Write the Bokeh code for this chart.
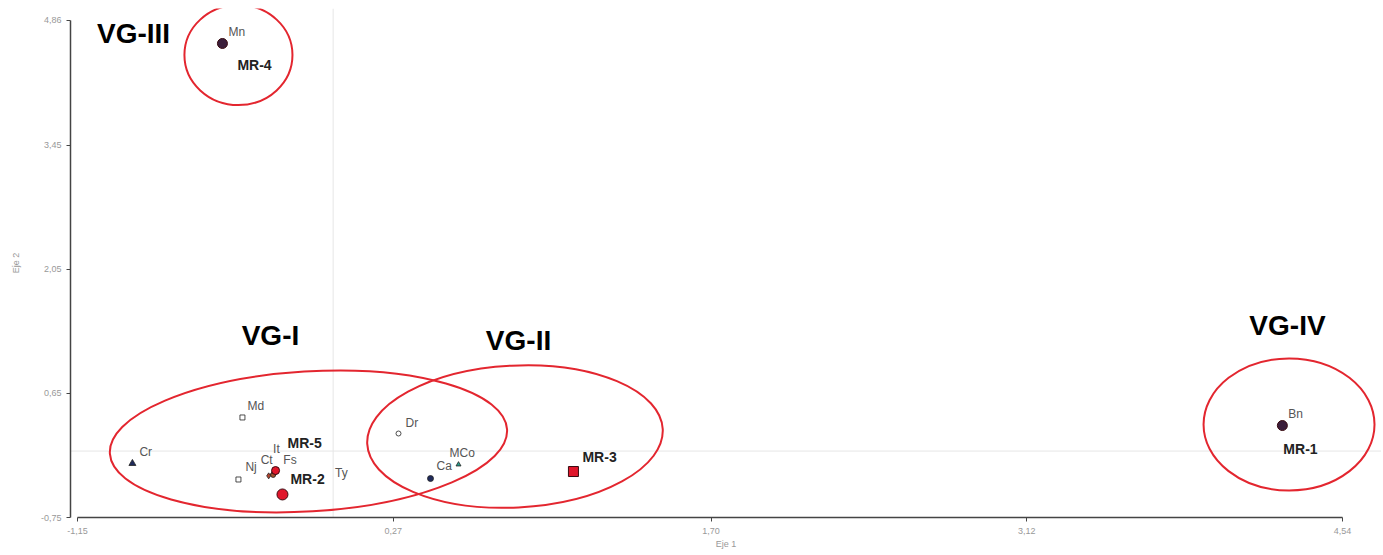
from bokeh.plotting import figure
from bokeh.models import ColumnDataSource, Range1d, Span, FixedTicker
from bokeh.core.properties import value
from bokeh.embed import file_html
from bokeh.resources import INLINE

# ---------------- data ----------------
species = ["Mn", "Bn", "Cr", "Md", "Nj", "Ct", "It", "Fs", "Ty", "Dr", "Ca", "MCo"]
species_x = [-0.498, 4.270, -0.903, -0.408, -0.426, -0.29, -0.27, -0.26, -0.27, 0.294, 0.438, 0.564]
species_y = [4.600, 0.288, -0.140, 0.379, -0.321, -0.28, -0.25, -0.24, -0.27, 0.198, -0.310, -0.152]

sites = ["MR-1", "MR-2", "MR-3", "MR-4", "MR-5"]
site_x = [4.270, -0.228, 1.081, -0.498, -0.259]
site_y = [0.288, -0.490, -0.231, 4.600, -0.220]

groups = ["VG-I", "VG-II", "VG-III", "VG-IV"]
group_cx = [-0.111, 0.818, -0.426, 4.300]
group_cy = [0.108, 0.164, 4.470, 0.300]
group_w = [1.790, 1.331, 0.486, 0.769]
group_h = [1.580, 1.603, 1.130, 1.490]
group_label_x = [-0.282, 0.834, -0.898, 4.293]
group_label_y = [1.304, 1.248, 4.713, 1.417]

x_ticks = [-1.15, 0.27, 1.70, 3.12, 4.54]
x_tick_labels = ["-1,15", "0,27", "1,70", "3,12", "4,54"]
y_ticks = [-0.75, 0.65, 2.05, 3.45, 4.86]
y_tick_labels = ["-0,75", "0,65", "2,05", "3,45", "4,86"]

# ---------------- styles ----------------
species_marker = ["circle", "circle", "triangle", "square", "square", "diamond",
                  "triangle", "diamond", "circle", "circle", "circle", "triangle"]
species_fill = ["#3b1e3b", "#3b1e3b", "#1f2a5a", "#ffffff", "#ffffff", "#b5452f",
                "#d62020", "#d62020", "#a0522d", "#ffffff", "#1f2a5a", "#2a9d8f"]
species_size = [7, 7, 7, 5, 5, 6, 6, 6, 5, 5, 6, 5]
species_dx = [6, 6, 7, 5, 7, -8, 0, 8, 62, 7, 6, -9]
species_dy = [-11, -12, -11, -11, -12, -16, -24, -12, -2, -11, -13, -12]

site_marker = ["circle", "circle", "square", "circle", "circle"]
site_fill = ["#3b1e3b", "#e0162b", "#e0162b", "#3b1e3b", "#e0162b"]
site_size = [10, 11, 10, 10, 8]
site_dx = [1, 8, 9, 15, 12]
site_dy = [23, -15, -15, 22, -28]

group_angle = [0.061, 0.05, 0.0, 0.0]

W, H = 1381, 553
LEFT, TOP = 70, 8
sx_scale = 222.3
sy_scale = 88.6
x_start = -1.15 - 7 / sx_scale
x_end = x_start + (W - LEFT) / sx_scale
y_start = -0.75
y_end = -0.75 + (517 - TOP) / sy_scale

p = figure(width=W, height=H, x_range=Range1d(x_start, x_end), y_range=Range1d(y_start, y_end),
           output_backend="svg", toolbar_location=None,
           min_border_left=LEFT, min_border_right=0, min_border_top=TOP, min_border_bottom=H - 517)
p.outline_line_color = None
p.xgrid.visible = False
p.ygrid.visible = False
p.background_fill_color = "white"

# origin lines
p.add_layout(Span(location=0, dimension="height", line_color="#e6e6e6", line_width=1, level="underlay"))
p.add_layout(Span(location=0, dimension="width", line_color="#e6e6e6", line_width=1, level="underlay"))

# axes
for ax, ticks, labs, bnds in [(p.xaxis, x_ticks, x_tick_labels, (-1.15, 4.54)),
                              (p.yaxis, y_ticks, y_tick_labels, (-0.75, 4.86))]:
    ax.ticker = FixedTicker(ticks=ticks)
    ax.major_label_overrides = dict(zip(ticks, labs))
    ax.bounds = bnds
    ax.minor_tick_line_color = None
    ax.major_tick_in = 0
    ax.major_tick_out = 4
    ax.axis_line_color = "#444444"
    ax.axis_line_width = 1.5
    ax.major_tick_line_color = "#444444"
    ax.major_label_text_font = "Liberation Sans"
    ax.major_label_text_font_size = "9px"
    ax.major_label_text_color = "#999999"
    ax.axis_label_text_font = "Liberation Sans"
    ax.axis_label_text_font_size = "9px"
    ax.axis_label_text_font_style = "normal"
    ax.axis_label_text_color = "#999999"
p.xaxis.axis_label = "Eje 1"
p.yaxis.axis_label = "Eje 2"
p.xaxis.major_label_standoff = 6
p.xaxis.axis_label_standoff = 2
p.yaxis.major_label_standoff = 5
p.yaxis.axis_label_standoff = 17

# group ellipses
gsrc = ColumnDataSource(dict(x=group_cx, y=group_cy, w=group_w, h=group_h, a=group_angle,
                             lx=group_label_x, ly=group_label_y, t=groups))
p.ellipse(x="x", y="y", width="w", height="h", angle="a", source=gsrc,
          fill_color=None, line_color="#e3262f", line_width=2)
p.text(x="lx", y="ly", text="t", source=gsrc, text_align="center", text_baseline="middle",
       text_font=value("Liberation Sans"), text_font_style="bold", text_font_size="28px",
       text_color="#000000")

# species
ssrc = ColumnDataSource(dict(x=species_x, y=species_y, t=species, m=species_marker,
                             f=species_fill, s=species_size, dx=species_dx, dy=species_dy))
p.scatter(x="x", y="y", marker="m", size="s", fill_color="f", line_color="#222222",
          line_width=0.8, source=ssrc)
p.text(x="x", y="y", text="t", x_offset="dx", y_offset="dy", source=ssrc,
       text_align="left", text_baseline="middle", text_font=value("Liberation Sans"),
       text_font_size="12px", text_color="#555555")

# sites
tsrc = ColumnDataSource(dict(x=site_x, y=site_y, t=sites, m=site_marker, f=site_fill,
                             s=site_size, dx=site_dx, dy=site_dy))
p.scatter(x="x", y="y", marker="m", size="s", fill_color="f", line_color="#3a0a10",
          line_width=1, source=tsrc)
p.text(x="x", y="y", text="t", x_offset="dx", y_offset="dy", source=tsrc,
       text_align="left", text_baseline="middle", text_font=value("Liberation Sans"),
       text_font_style="bold", text_font_size="14px", text_color="#222222")

open("out.html", "w").write(file_html(p, INLINE))
